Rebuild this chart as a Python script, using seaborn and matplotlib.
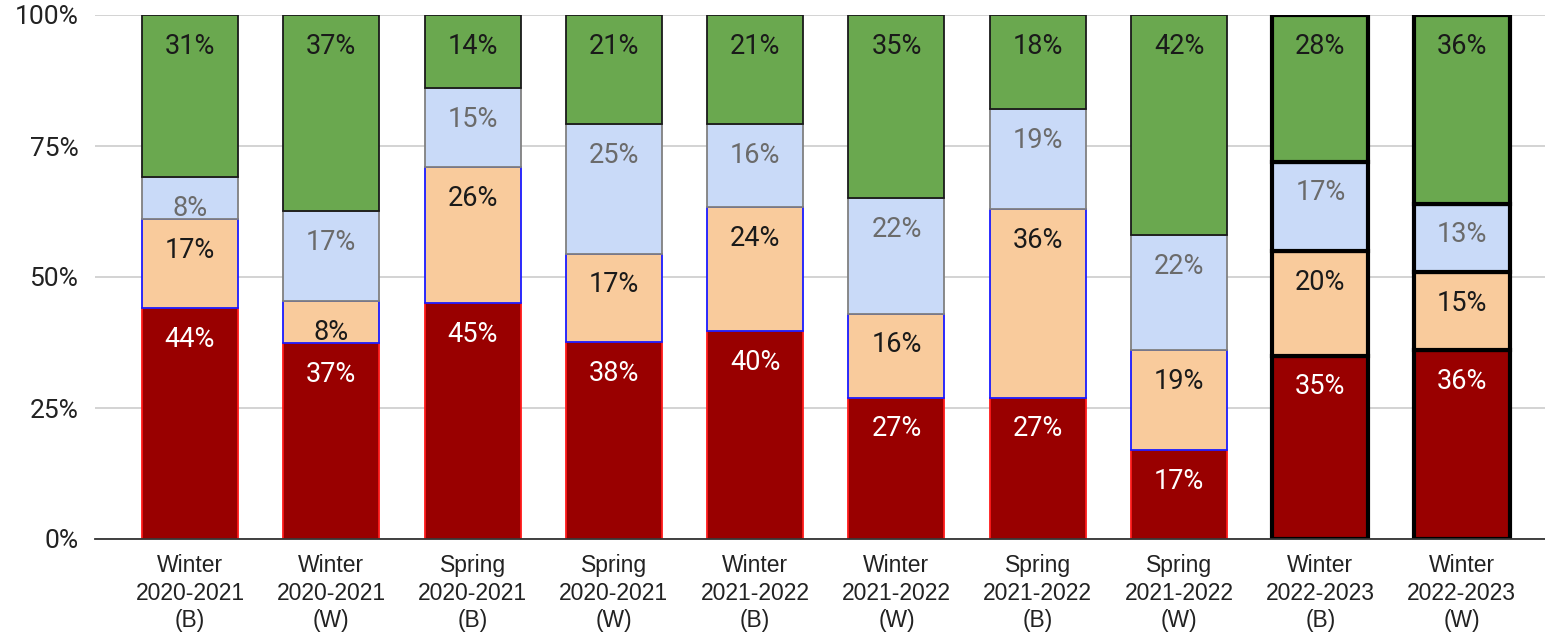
import numpy as np
import pandas as pd
import matplotlib
matplotlib.use("Agg")
import matplotlib.pyplot as plt
import seaborn as sns

categories = [
    "Winter\n2020-2021\n(B)", "Winter\n2020-2021\n(W)",
    "Spring\n2020-2021\n(B)", "Spring\n2020-2021\n(W)",
    "Winter\n2021-2022\n(B)", "Winter\n2021-2022\n(W)",
    "Spring\n2021-2022\n(B)", "Spring\n2021-2022\n(W)",
    "Winter\n2022-2023\n(B)", "Winter\n2022-2023\n(W)",
]
red_vals = [44, 37, 45, 38, 40, 27, 27, 17, 35, 36]
orange_vals = [17, 8, 26, 17, 24, 16, 36, 19, 20, 15]
blue_vals = [8, 17, 15, 25, 16, 22, 19, 22, 17, 13]
green_vals = [31, 37, 14, 21, 21, 35, 18, 42, 28, 36]
ytick_labels = ["0%", "25%", "50%", "75%", "100%"]

series = [
    # values, face, edge (normal), text color
    (red_vals, "#990000", "#ff1a1a", "white"),
    (orange_vals, "#f9cb9c", "#1a1aff", "#1a1a1a"),
    (blue_vals, "#c9daf8", "#808080", "#6b6b6b"),
    (green_vals, "#6aa84f", "#1a1a1a", "#1a1a1a"),
]

sns.set_theme(style="white")
plt.rcParams["font.family"] = ["Roboto", "DejaVu Sans"]

fig = plt.figure(figsize=(15.45, 6.38), dpi=100)
ax = fig.add_axes([95 / 1545, 1 - 539 / 638, 1 - 95 / 1545, (539 - 15) / 638])

totals = np.sum([np.array(s[0], dtype=float) for s in series], axis=0)
bottom = np.zeros(len(categories))
for vals, face, edge, tcol in series:
    share = np.array(vals, dtype=float) / totals * 100.0
    df = pd.DataFrame({"cat": categories, "share": share})
    sns.barplot(data=df, x="cat", y="share", color=face, bottom=bottom,
                width=0.68, ax=ax, saturation=1, errorbar=None, zorder=3)
    cont = ax.containers[-1]
    for i, (patch, v) in enumerate(zip(cont.patches, vals)):
        patch.set_facecolor(face)
        if i >= 8:
            patch.set_edgecolor("black")
            patch.set_linewidth(3.0)
        else:
            patch.set_edgecolor(edge)
            patch.set_linewidth(1.3)
        top = patch.get_y() + patch.get_height()
        xc = patch.get_x() + patch.get_width() / 2
        ax.annotate(f"{v}%", (xc, top), xytext=(0, -22.5), textcoords="offset points",
                    ha="center", va="center", fontsize=19.5, color=tcol, zorder=5)
    bottom = bottom + share

ax.set_ylim(0, 100)
ax.set_xlim(-0.672, 9.59)
ax.set_yticks([0, 25, 50, 75, 100])
ax.set_yticklabels(ytick_labels, fontsize=19, color="#222222")
ax.set_xlabel("")
ax.set_ylabel("")
ax.tick_params(axis="both", length=0)
ax.tick_params(axis="y", pad=12)
ax.tick_params(axis="x", pad=11)
for lab in ax.get_xticklabels():
    lab.set_family(["Liberation Sans", "DejaVu Sans"])
    lab.set_fontsize(16.5)
    lab.set_linespacing(1.25)
    lab.set_color("#222222")

ax.grid(axis="y", color="#cccccc", linewidth=1.2, zorder=0)
ax.set_axisbelow(True)
for s in ["top", "right", "left"]:
    ax.spines[s].set_visible(False)
ax.spines["bottom"].set_color("#333333")
ax.spines["bottom"].set_linewidth(1.3)
ax.spines["bottom"].set_zorder(6)

fig.savefig("out.png", dpi=100)
